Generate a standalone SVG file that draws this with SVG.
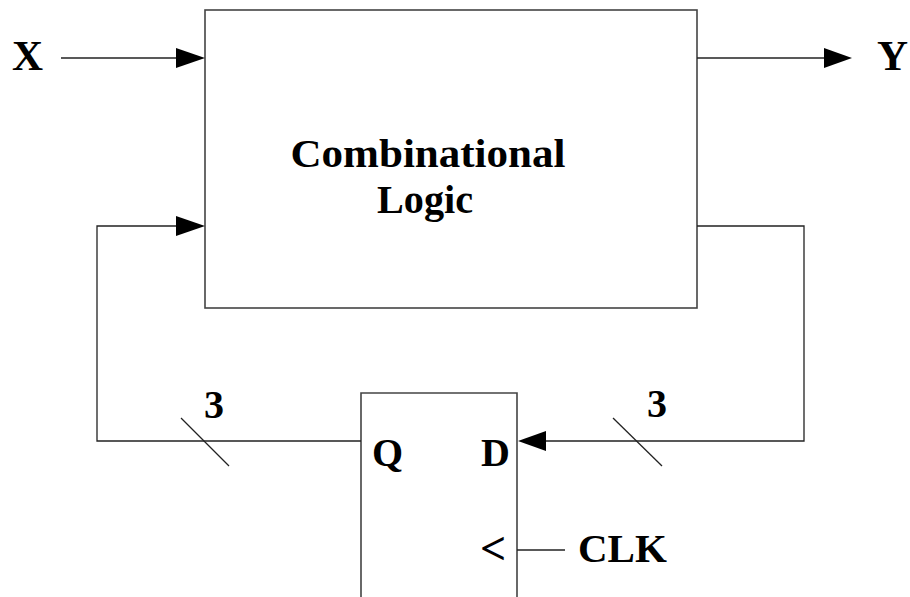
<svg xmlns="http://www.w3.org/2000/svg" width="910" height="597" viewBox="0 0 910 597">
<style>
text{font-family:"Liberation Serif","Times New Roman",serif;font-weight:bold;fill:#000}
.box{fill:#fff;stroke:#444;stroke-width:1.6}
.w{fill:none;stroke:#222;stroke-width:1.3}
.ah{fill:#000;stroke:none}
</style>
<rect width="910" height="597" fill="#fff"/>
<g id="comb">
<rect class="box" x="205" y="10" width="492" height="298"/>
<text x="428" y="167" font-size="41" text-anchor="middle" textLength="275" lengthAdjust="spacingAndGlyphs">Combinational</text>
<text x="425" y="213" font-size="41" text-anchor="middle" textLength="96" lengthAdjust="spacingAndGlyphs">Logic</text>
</g>
<g id="ff">
<path class="box" d="M361,597 V393 H517 V597"/>
<text x="372" y="466" font-size="40">Q</text>
<text x="481" y="466" font-size="40">D</text>
<text x="480" y="564" font-size="46">&lt;</text>
</g>
<g id="labels">
<text x="12" y="70" font-size="43">X</text>
<text x="877" y="70" font-size="43">Y</text>
<text x="578" y="562" font-size="41">CLK</text>
<text x="204" y="418" font-size="40">3</text>
<text x="647" y="417" font-size="40">3</text>
</g>
<g id="connectors">
<line class="w" x1="61" y1="58" x2="180" y2="58"/>
<polygon class="ah" points="176,48 205,58 176,68"/>
<line class="w" x1="697" y1="58" x2="828" y2="58"/>
<polygon class="ah" points="824,48 852,58 824,68"/>
<polyline class="w" points="180,226 97,226 97,441 361,441"/>
<polygon class="ah" points="176,216 205,226 176,236"/>
<polyline class="w" points="697,226 804,226 804,441 542,441"/>
<polygon class="ah" points="546,431 518,441 546,451"/>
<line class="w" x1="517" y1="550" x2="565" y2="550"/>
<line class="w" x1="181" y1="418" x2="229" y2="466"/>
<line class="w" x1="613" y1="418" x2="662" y2="466"/>
</g>
</svg>
